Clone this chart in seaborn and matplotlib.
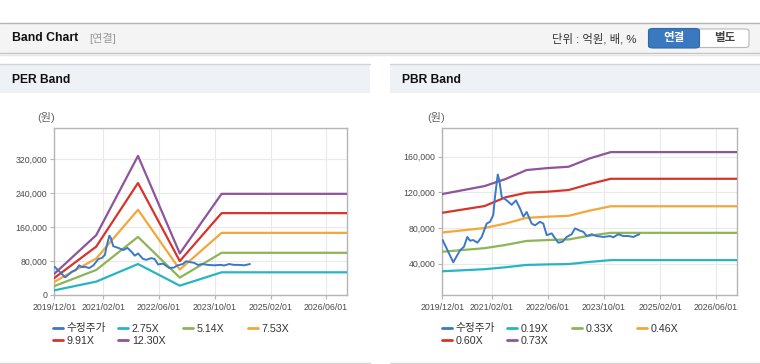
import matplotlib
matplotlib.use('Agg')
import matplotlib.pyplot as plt
import matplotlib.ticker as mticker
from matplotlib.patches import Rectangle, FancyBboxPatch
from matplotlib.lines import Line2D
from matplotlib.legend import Legend
import seaborn as sns
import pandas as pd

# adjusted close price (수정주가), shared by both panels
price_dates = ['2019-12-04', '2020-03-05', '2020-05-03', '2020-06-06', '2020-07-05',
               '2020-07-28', '2020-08-26', '2020-09-30', '2020-11-07', '2020-12-20',
               '2021-01-18', '2021-02-15', '2021-03-02', '2021-03-26', '2021-04-08',
               '2021-04-29', '2021-06-12', '2021-07-25', '2021-08-31', '2021-10-05',
               '2021-11-03', '2021-12-02', '2022-01-14', '2022-02-12', '2022-03-27',
               '2022-04-25', '2022-05-25', '2022-07-07', '2022-08-05', '2022-09-02',
               '2022-10-10', '2022-11-14', '2022-12-27', '2023-01-25', '2023-03-09',
               '2023-04-07', '2023-05-07', '2023-06-19', '2023-08-01', '2023-09-28',
               '2023-11-25', '2023-12-23', '2024-02-05', '2024-03-19', '2024-05-01',
               '2024-06-14', '2024-08-05']
price_values = [66500, 41600, 55000, 59000, 70000, 65800, 66500, 63500, 70000, 85000,
                87000, 94500, 115000, 140000, 134000, 115000, 111000, 106000, 111000, 102000,
                92700, 98000, 85000, 83000, 87000, 85000, 72000, 74000, 68500, 63500,
                64700, 70000, 73000, 79600, 77000, 75800, 71000, 73000, 71000, 70000,
                71000, 69600, 73000, 71000, 71000, 70000, 73000]

# PER band lines
per_dates = ['2019-12-01', '2020-12-01', '2021-12-01', '2022-12-01', '2023-12-01', '2026-12-03']
per_275 = [11000, 31500, 73000, 22000, 53500, 53500]
per_514 = [21000, 59000, 137000, 41000, 99500, 99500]
per_753 = [31000, 86000, 201000, 60000, 146500, 146500]
per_991 = [40000, 114000, 264000, 80000, 193000, 193000]
per_1230 = [50000, 141000, 328000, 98000, 238500, 238500]
per_labels = ['2.75X', '5.14X', '7.53X', '9.91X', '12.30X']

# PBR band lines
pbr_dates = ['2019-12-01', '2020-12-01', '2021-06-01', '2021-12-01', '2022-06-01',
             '2022-12-01', '2023-06-01', '2023-12-01', '2026-12-03']
pbr_019 = [31500, 33800, 36000, 38600, 39200, 39600, 42000, 44000, 44000]
pbr_033 = [53400, 57400, 61000, 65500, 66500, 67200, 71400, 74600, 74600]
pbr_046 = [75000, 80000, 85000, 91400, 92700, 93700, 99500, 104400, 104400]
pbr_060 = [97100, 104600, 114400, 119600, 120700, 122600, 129300, 135200, 135200]
pbr_073 = [118100, 127000, 134900, 145000, 147200, 148700, 158000, 165100, 165100]
pbr_labels = ['0.19X', '0.33X', '0.46X', '0.60X', '0.73X']

x_ticks = ['2019-12-01', '2021-02-01', '2022-06-01', '2023-10-01', '2025-02-01', '2026-06-01']
x_range = ['2019-12-01', '2026-12-03']

price_color = '#3b78c6'
band_colors = ['#27b5c5', '#8db556', '#f3a73a', '#d5352b', '#8e559b']

sns.set_theme(style='white')
plt.rcParams['font.family'] = ['Liberation Sans', 'Noto Sans CJK KR']

W, H = 760, 364
fig = plt.figure(figsize=(W / 100, H / 100), dpi=100)
fig.patch.set_facecolor('white')


def fx(x):
    return x / W


def fy(y):
    return 1 - y / H


def rect(x0, y0, x1, y1, **kw):
    fig.add_artist(Rectangle((fx(x0), fy(y1)), (x1 - x0) / W, (y1 - y0) / H,
                             transform=fig.transFigure, **kw))


def hline(x0, x1, y, color, lw=1):
    fig.add_artist(Line2D([fx(x0), fx(x1)], [fy(y), fy(y)], color=color, lw=lw,
                          transform=fig.transFigure))


# top header bar
rect(0, 23, W, 53, facecolor='#f4f4f4', edgecolor='none')
hline(0, W, 22.5, '#b4b4b4')
hline(0, W, 53.3, '#c4c4c4')
hline(0, W, 54.5, '#e6e6e6')
fig.text(fx(12), fy(38), 'Band Chart', fontsize=8.8, fontweight='bold', color='#111111', va='center')
fig.text(fx(89), fy(38), '[연결]', fontsize=8, color='#999999', va='center')
fig.text(fx(552), fy(38.5), '단위 : 억원, 배, %', fontsize=8.2, color='#333333', va='center')
fig.add_artist(FancyBboxPatch((fx(649), fy(47.5)), fx(100), (47.5 - 29) / H,
                              boxstyle='round,pad=0,rounding_size=0.006',
                              facecolor='white', edgecolor='#b8b8b8', lw=0.8,
                              transform=fig.transFigure))
fig.add_artist(FancyBboxPatch((fx(648.5), fy(48)), fx(51), (48 - 28.5) / H,
                              boxstyle='round,pad=0,rounding_size=0.006',
                              facecolor='#3a78bf', edgecolor='#2f69ab', lw=0.8,
                              transform=fig.transFigure))
fig.text(fx(674), fy(38.5), '연결', fontsize=8.3, fontweight='bold', color='white', va='center', ha='center')
fig.text(fx(725), fy(38.5), '별도', fontsize=8.3, fontweight='bold', color='#444444', va='center', ha='center')

# panel headers and bottom borders
for x0, x1, title in [(0, 370, 'PER Band'), (390, W, 'PBR Band')]:
    rect(x0, 64, x1, 93, facecolor='#eef2f7', edgecolor='none')
    hline(x0, x1, 64, '#d0d4da')
    hline(x0, x1, 362.5, '#d6d6d6')
    fig.text(fx(x0 + 12), fy(80), title, fontsize=8.7, fontweight='bold', color='#111111', va='center')
    fig.text(fx(x0 + 37), fy(117.5), '(원)', fontsize=8, color='#666666', va='center')


def draw_panel(ax, dates, bands, labels, ylim, yticks, leg_x):
    dt = pd.to_datetime(dates)
    sns.lineplot(x=pd.to_datetime(price_dates), y=price_values, ax=ax, color=price_color,
                 lw=1.4, label='수정주가', zorder=5)
    for vals, lab, col in zip(bands, labels, band_colors):
        sns.lineplot(x=dt, y=vals, ax=ax, color=col, lw=1.6, label=lab, zorder=4)
    ax.set_xlim(pd.to_datetime(x_range))
    ax.set_ylim(*ylim)
    ax.set_yticks(yticks)
    ax.yaxis.set_major_formatter(mticker.FuncFormatter(lambda v, p: f'{v:,.0f}'))
    xt = pd.to_datetime(x_ticks)
    ax.set_xticks(xt)
    ax.set_xticklabels([d.strftime('%Y/%m/%d') for d in xt])
    ax.set_xlabel('')
    ax.set_ylabel('')
    ax.grid(True, color='#e9e9e9', lw=0.8)
    ax.set_axisbelow(True)
    for s in ax.spines.values():
        s.set_color('#b5b5b5')
        s.set_linewidth(1)
    ax.tick_params(axis='both', which='major', length=3, width=0.8, color='#b5b5b5',
                   labelsize=6.3, labelcolor='#4a4a4a', pad=2, bottom=True, left=True)
    ax.tick_params(axis='x', pad=3)
    handles, labs = ax.get_legend_handles_labels()
    ax.get_legend().remove()
    hd = dict(zip(labs, handles))
    cols = [[labs[0], labs[4]], [labs[1], labs[5]], [labs[2]], [labs[3]]]
    for i, col in enumerate(cols):
        lg = Legend(ax, [Line2D([], [], color=hd[l].get_color(), lw=2) for l in col], col,
                    loc='upper left', bbox_to_anchor=(fx(leg_x + 65 * i), fy(323.5)),
                    bbox_transform=fig.transFigure, frameon=False, fontsize=7.7,
                    handlelength=0.95, handletextpad=0.35, labelspacing=0.22,
                    borderpad=0, borderaxespad=0, labelcolor='#333333')
        ax.add_artist(lg)


ax1 = fig.add_axes([fx(54.3), fy(295), (347.3 - 54.3) / W, (295 - 128.3) / H])
draw_panel(ax1, per_dates, [per_275, per_514, per_753, per_991, per_1230], per_labels,
           (0, 393000), [0, 80000, 160000, 240000, 320000], 53)

ax2 = fig.add_axes([fx(442.3), fy(295), (737.3 - 442.3) / W, (295 - 128.3) / H])
draw_panel(ax2, pbr_dates, [pbr_019, pbr_033, pbr_046, pbr_060, pbr_073], pbr_labels,
           (4900, 191800), [40000, 80000, 120000, 160000], 442)

fig.savefig('out.png', dpi=100)
